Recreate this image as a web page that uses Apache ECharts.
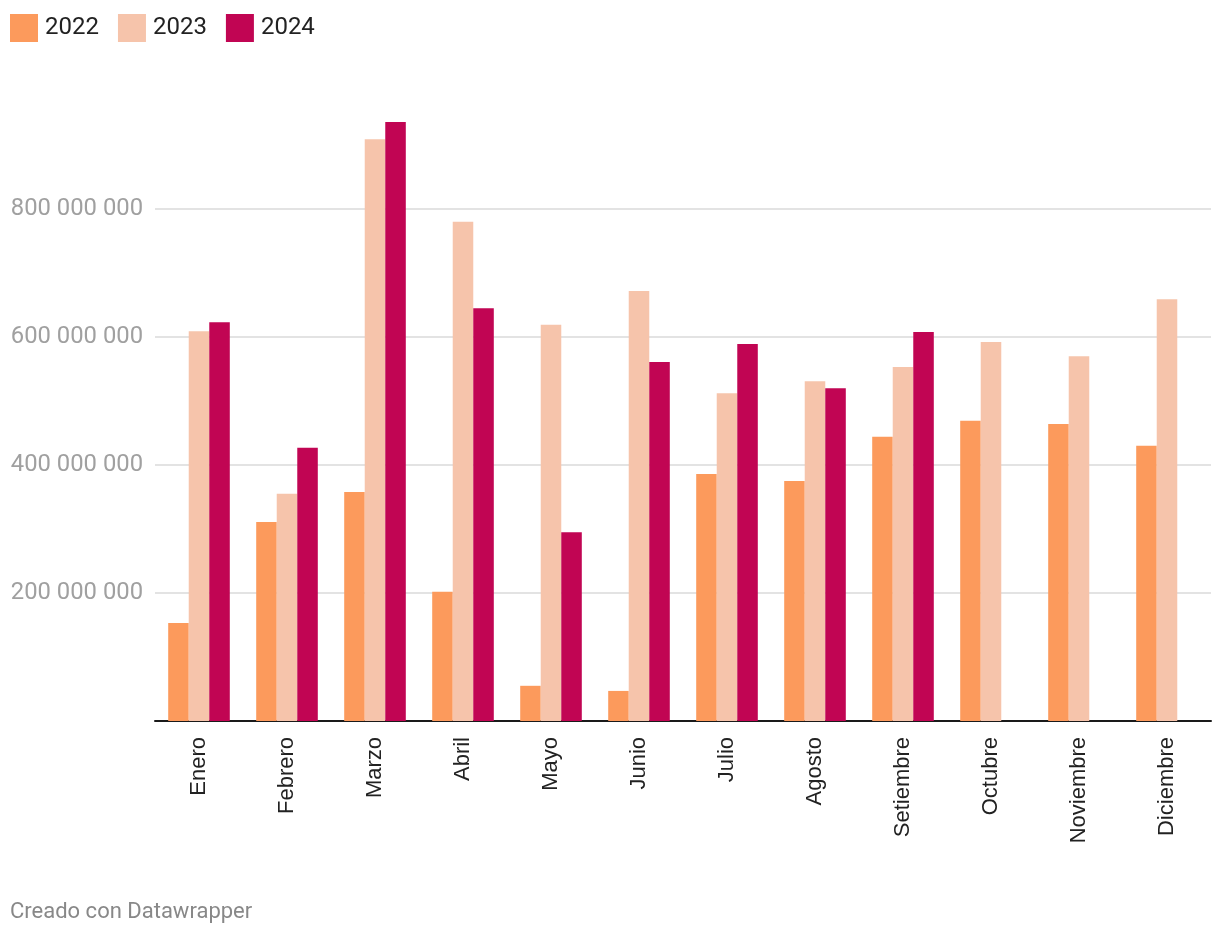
<!DOCTYPE html>
<html><head><meta charset="utf-8">
<script src="https://cdn.jsdelivr.net/npm/echarts@6/dist/echarts.min.js"></script>
<style>html,body{margin:0;padding:0;background:#fff}#c{width:1220px;height:936px}</style>
</head><body><div id="c"></div>
<script>
const categories = ['Enero','Febrero','Marzo','Abril','Mayo','Junio','Julio','Agosto','Setiembre','Octubre','Noviembre','Diciembre'];
const values2022 = [153e6, 311e6, 358e6, 202e6, 55e6, 47e6, 386e6, 375e6, 444e6, 469e6, 464e6, 430e6];
const values2023 = [609e6, 355e6, 909e6, 780e6, 619e6, 672e6, 512e6, 531e6, 553e6, 592e6, 570e6, 659e6];
const values2024 = [623e6, 427e6, 936e6, 645e6, 295e6, 561e6, 589e6, 520e6, 608e6, null, null, null];
const seriesNames = ['2022','2023','2024'];
const colors = ['#fc9a5c','#f6c4ab','#c10553'];

function fmt(v){ return String(Math.round(v)).replace(/\B(?=(\d{3})+(?!\d))/g,' '); }

const chart = echarts.init(document.getElementById('c'), null, {renderer:'canvas'});
chart.setOption({
  animation:false,
  color: colors,
  legend:{
    left:10, top:14, padding:0, itemWidth:28, itemHeight:28, itemGap:19, icon:'rect',
    textStyle:{fontFamily:'Roboto', fontSize:24, color:'#222', padding:[0,0,0,2]},
    data: seriesNames
  },
  graphic:[{type:'text', left:10, top:901, style:{text:'Creado con Datawrapper', font:'22px Roboto', fill:'#888'}}],
  grid:{left:155, right:9, top:81, bottom:215, containLabel:false},
  xAxis:{
    type:'category', data:categories,
    axisLine:{lineStyle:{color:'#1a1a1a', width:2}},
    axisTick:{show:false},
    axisLabel:{rotate:90, margin:16, fontFamily:'Liberation Sans', fontSize:22, color:'#222', interval:0}
  },
  yAxis:{
    type:'value', min:0, max:1000e6, interval:200e6,
    axisLine:{show:false}, axisTick:{show:false},
    axisLabel:{margin:12, fontFamily:'Roboto', fontSize:23.8, color:'#a0a0a0',
      formatter:function(v){ return (v===0||v>=1000e6)?'':fmt(v); }},
    splitLine:{lineStyle:{color:['#e3e3e3','#e3e3e3','#e3e3e3','#e3e3e3','#e3e3e3','rgba(0,0,0,0)'], width:2}}
  },
  series: [
    {name:'2022', type:'bar', data:values2022, barGap:'0%', barCategoryGap:'30%'},
    {name:'2023', type:'bar', data:values2023, barGap:'0%', barCategoryGap:'30%'},
    {name:'2024', type:'bar', data:values2024, barGap:'0%', barCategoryGap:'30%'}
  ]
});
</script></body></html>
